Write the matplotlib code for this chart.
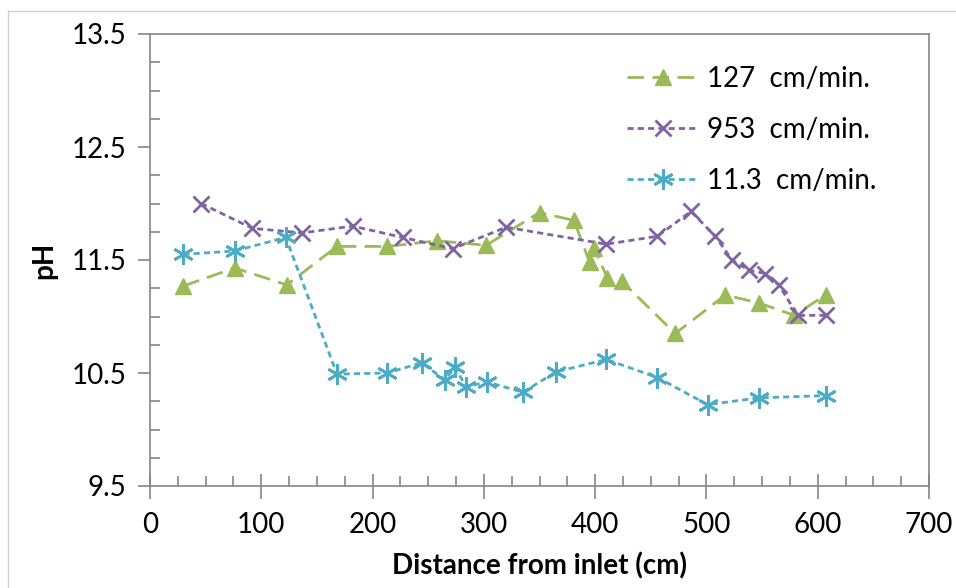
import matplotlib
matplotlib.use('Agg')
import matplotlib.pyplot as plt
from matplotlib.ticker import MultipleLocator
from matplotlib.lines import Line2D

plt.rcParams['font.family'] = ['Lato', 'DejaVu Sans']

# 127 cm/min.
x_127 = [30, 76, 123, 168, 213, 258, 302, 350, 381, 395, 399, 411, 424, 472, 517, 547, 579, 607]
ph_127 = [11.27, 11.43, 11.28, 11.62, 11.62, 11.67, 11.63, 11.92, 11.85, 11.48, 11.61, 11.34, 11.31,
          10.85, 11.19, 11.12, 11.01, 11.19]

# 953 cm/min.
x_953 = [46, 92, 137, 182, 227, 272, 320, 410, 456, 486, 508, 523, 538, 553, 565, 582, 607]
ph_953 = [12.0, 11.78, 11.74, 11.80, 11.70, 11.60, 11.79, 11.64, 11.71, 11.93, 11.71, 11.50,
          11.41, 11.38, 11.28, 11.01, 11.01]

# 11.3 cm/min.
x_113 = [30, 76, 122, 168, 213, 244, 265, 274, 284, 303, 335, 365, 410, 456, 501, 547, 607]
ph_113 = [11.55, 11.58, 11.70, 10.49, 10.50, 10.59, 10.44, 10.55, 10.38, 10.42, 10.33, 10.51,
          10.62, 10.46, 10.22, 10.28, 10.30]

green = '#9BBB59'
purple = '#8064A2'
blue = '#4BACC6'
axis_gray = '#868686'

fig = plt.figure(figsize=(9.56, 5.88), dpi=100)
ax = fig.add_axes([150 / 956, 1 - 486 / 588, 779 / 956, 452 / 588])

ax.plot(x_127, ph_127, color=green, lw=2, dashes=(6, 3), marker='^', ms=12,
        label='127  cm/min.')
ax.plot(x_953, ph_953, color=purple, lw=2, dashes=(2.2, 1.5), marker='x', ms=11, mew=2,
        label='953  cm/min.')
ax.plot(x_113, ph_113, color=blue, lw=2, dashes=(2.2, 1.5), marker=(6, 2, 0), ms=15, mew=2,
        label='11.3  cm/min.')

ax.set_xlim(0, 700)
ax.set_ylim(9.5, 13.5)
ax.xaxis.set_major_locator(MultipleLocator(100))
ax.xaxis.set_minor_locator(MultipleLocator(25))
ax.yaxis.set_minor_locator(MultipleLocator(0.25))
ax.set_yticks([9.5, 10.5, 11.5, 12.5, 13.5])

for s in ax.spines.values():
    s.set_color(axis_gray)
    s.set_linewidth(1.2)

ax.tick_params(axis='x', which='major', direction='inout', length=18, width=1.2, color=axis_gray,
               labelsize=20, pad=10)
ax.tick_params(axis='x', which='minor', direction='in', length=7, width=1.2, color=axis_gray)
ax.tick_params(axis='y', which='major', direction='out', length=9, width=1.2, color=axis_gray,
               labelsize=20, pad=8)
ax.tick_params(axis='y', which='minor', direction='in', length=7, width=1.2, color=axis_gray)

ax.set_xlabel('Distance from inlet (cm)', fontsize=20, fontweight='bold', labelpad=10)
ax.set_ylabel('pH', fontsize=20, fontweight='bold', labelpad=10)

ax.legend(loc='upper right', bbox_to_anchor=(0.965, 0.985), frameon=False, fontsize=20,
          handlelength=2.6, labelspacing=0.9, handletextpad=0.3)

# outer chart border
fig.add_artist(Line2D([8 / 956, 8 / 956], [0, 1 - 11 / 588], color='#D0D0D0', lw=1))
fig.add_artist(Line2D([8 / 956, 955 / 956], [1 - 11 / 588, 1 - 11 / 588], color='#D0D0D0', lw=1))

fig.savefig('out.png', dpi=100)
